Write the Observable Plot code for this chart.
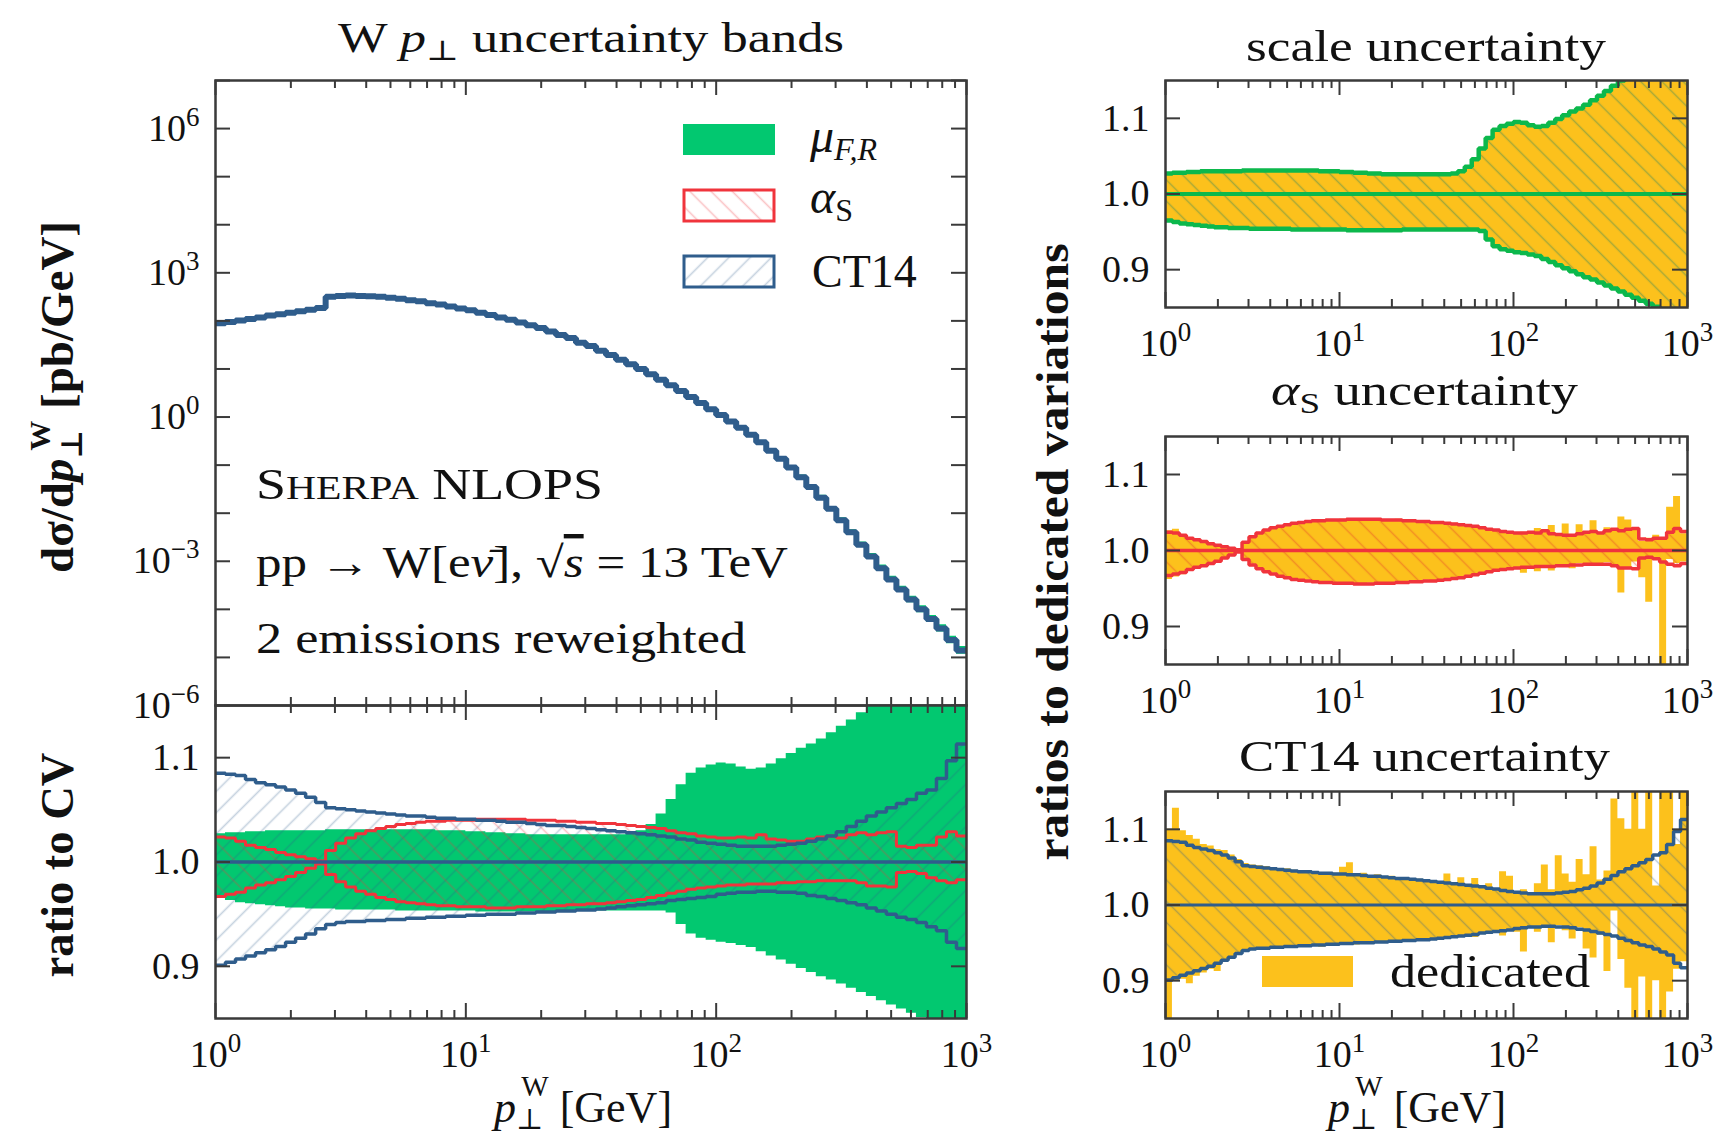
<!DOCTYPE html>
<html>
<head>
<meta charset="utf-8">
<script src="https://cdn.jsdelivr.net/npm/d3@7"></script>
<script src="https://cdn.jsdelivr.net/npm/@observablehq/plot@0.6"></script>
<style>
  html, body { margin: 0; padding: 0; background: #fff; }
  #chart { position: relative; width: 1720px; height: 1143px; overflow: hidden; background: #fff; }
  #chart > svg { position: absolute; left: 0; top: 0; }
</style>
</head>
<body>
<div id="chart"></div>
<script>
// ---- binning: 25 logarithmic bins per decade, 1 GeV to 1 TeV ----
const binEdges = [
  1, 1.096, 1.202, 1.318, 1.445, 1.585, 1.738, 1.905, 2.089, 2.291, 2.512, 2.754, 3.020, 3.311, 3.631, 3.981, 4.365, 4.786, 5.248, 5.754, 6.310, 6.918, 7.586, 8.318, 9.120,
  10, 10.96, 12.02, 13.18, 14.45, 15.85, 17.38, 19.05, 20.89, 22.91, 25.12, 27.54, 30.20, 33.11, 36.31, 39.81, 43.65, 47.86, 52.48, 57.54, 63.10, 69.18, 75.86, 83.18, 91.20,
  100, 109.6, 120.2, 131.8, 144.5, 158.5, 173.8, 190.5, 208.9, 229.1, 251.2, 275.4, 302.0, 331.1, 363.1, 398.1, 436.5, 478.6, 524.8, 575.4, 631.0, 691.8, 758.6, 831.8, 912.0,
  1000
];

// central value dsigma/dpT [pb/GeV]
const centralValue = [
  89, 95, 102, 110, 117, 129, 138, 148, 158, 170, 186,
  316, 331, 339, 331, 324, 316, 302, 288, 269, 257,
  234, 219, 200, 182, 166, 148, 132, 117, 105, 93,
  81, 71, 60, 51, 44, 35, 30, 24, 19.5, 15.5,
  12.6, 10, 7.8, 6.0, 4.6, 3.5, 2.6, 1.95, 1.45, 1.10,
  0.81, 0.60, 0.43, 0.30, 0.20, 0.135, 0.089, 0.056, 0.035, 0.021,
  0.0123, 0.0071, 0.0040, 0.0022, 0.00126, 0.00072, 0.00042, 0.00026, 0.00016, 0.0001,
  6.3e-5, 4.0e-5, 2.3e-5, 1.4e-5
];

// reweighted variations, ratio to central value
const scaleUp = [
  1.027,1.028,1.028,1.029,1.029,1.030,1.030,1.030,1.030,1.030,
  1.030,1.031,1.031,1.031,1.031,1.031,1.031,1.031,1.031,1.031,
  1.031,1.031,1.030,1.030,1.030,1.029,1.029,1.028,1.028,1.027,
  1.027,1.026,1.026,1.026,1.026,1.026,1.026,1.026,1.026,1.026,
  1.026,1.027,1.030,1.036,1.046,1.060,1.074,1.085,1.090,1.093,
  1.095,1.094,1.091,1.089,1.090,1.094,1.099,1.104,1.109,1.113,
  1.118,1.124,1.130,1.136,1.143,1.150,1.156,1.162,1.168,1.175,
  1.181,1.188,1.195,1.202,1.210
];
const scaleDown = [
  0.965,0.963,0.961,0.960,0.959,0.958,0.957,0.956,0.956,0.955,
  0.955,0.955,0.954,0.954,0.954,0.954,0.954,0.954,0.953,0.953,
  0.953,0.953,0.953,0.953,0.953,0.953,0.952,0.952,0.952,0.952,
  0.952,0.952,0.952,0.952,0.953,0.953,0.953,0.953,0.953,0.953,
  0.953,0.953,0.953,0.953,0.953,0.951,0.940,0.931,0.927,0.925,
  0.923,0.922,0.920,0.918,0.914,0.910,0.906,0.902,0.898,0.894,
  0.890,0.887,0.883,0.879,0.875,0.871,0.867,0.863,0.859,0.855,
  0.851,0.847,0.843,0.839,0.835
];
const alphaSUp = [
  1.024,1.023,1.020,1.016,1.014,1.012,1.009,1.007,1.005,1.003,
  1.001,1.011,1.018,1.023,1.027,1.030,1.032,1.034,1.036,1.037,
  1.038,1.039,1.039,1.040,1.040,1.040,1.041,1.041,1.041,1.041,
  1.041,1.040,1.040,1.040,1.039,1.039,1.038,1.038,1.037,1.037,
  1.036,1.035,1.034,1.033,1.032,1.030,1.028,1.027,1.025,1.024,
  1.023,1.023,1.024,1.023,1.026,1.022,1.021,1.020,1.020,1.022,
  1.024,1.025,1.023,1.026,1.028,1.026,1.028,1.029,1.015,1.014,
  1.016,1.016,1.024,1.029,1.025
];
const alphaSDown = [
  0.967,0.969,0.971,0.975,0.978,0.980,0.983,0.986,0.990,0.994,
  0.998,0.988,0.981,0.976,0.972,0.969,0.966,0.964,0.962,0.961,
  0.960,0.959,0.958,0.958,0.957,0.957,0.957,0.956,0.956,0.956,
  0.957,0.957,0.957,0.958,0.958,0.959,0.959,0.960,0.960,0.961,
  0.962,0.963,0.964,0.966,0.968,0.970,0.972,0.974,0.975,0.976,
  0.977,0.978,0.978,0.979,0.979,0.979,0.980,0.980,0.981,0.981,
  0.982,0.982,0.982,0.982,0.980,0.977,0.977,0.976,0.990,0.991,
  0.989,0.985,0.982,0.980,0.983
];
const ct14Up = [
  1.085,1.084,1.083,1.079,1.076,1.074,1.072,1.069,1.066,1.062,
  1.057,1.052,1.051,1.050,1.049,1.048,1.047,1.046,1.045,1.044,
  1.044,1.043,1.042,1.042,1.041,1.041,1.040,1.040,1.039,1.038,
  1.038,1.037,1.036,1.035,1.035,1.034,1.033,1.032,1.031,1.030,
  1.029,1.028,1.027,1.026,1.025,1.024,1.022,1.021,1.019,1.018,
  1.017,1.016,1.015,1.015,1.015,1.015,1.016,1.017,1.018,1.020,
  1.022,1.025,1.029,1.034,1.039,1.044,1.048,1.052,1.056,1.060,
  1.066,1.069,1.080,1.097,1.113
];
const ct14Down = [
  0.901,0.904,0.907,0.910,0.913,0.916,0.919,0.923,0.927,0.931,
  0.936,0.940,0.942,0.943,0.943,0.944,0.944,0.945,0.945,0.946,
  0.946,0.947,0.947,0.948,0.948,0.949,0.949,0.950,0.950,0.950,
  0.951,0.951,0.952,0.952,0.953,0.953,0.954,0.954,0.955,0.956,
  0.957,0.958,0.959,0.960,0.961,0.963,0.964,0.965,0.966,0.967,
  0.969,0.970,0.971,0.971,0.972,0.972,0.971,0.971,0.970,0.968,
  0.967,0.965,0.963,0.961,0.959,0.956,0.953,0.950,0.947,0.945,
  0.942,0.938,0.934,0.923,0.917
];

// dedicated (separately generated) variations
const alphaSDedicatedUp = [
  1.026,1.028,1.018,1.017,1.014,1.013,1.009,1.006,1.005,1.003,
  1.002,1.011,1.019,1.023,1.027,1.029,1.033,1.034,1.035,1.038,
  1.038,1.039,1.040,1.039,1.040,1.041,1.040,1.042,1.041,1.040,
  1.041,1.040,1.040,1.041,1.039,1.038,1.039,1.037,1.038,1.037,
  1.035,1.036,1.035,1.032,1.033,1.029,1.028,1.027,1.024,1.025,
  1.022,1.024,1.023,1.029,1.024,1.033,1.021,1.035,1.019,1.034,
  1.025,1.039,1.022,1.030,1.026,1.044,1.040,1.030,1.012,1.016,
  1.020,1.017,1.057,1.071,1.022
];
const alphaSDedicatedDown = [
  0.962,0.965,0.968,0.976,0.977,0.981,0.983,0.987,0.990,0.994,
  0.998,0.987,0.982,0.976,0.971,0.970,0.965,0.964,0.963,0.960,
  0.961,0.959,0.957,0.959,0.956,0.957,0.958,0.955,0.956,0.957,
  0.956,0.958,0.956,0.959,0.957,0.960,0.959,0.961,0.959,0.962,
  0.962,0.964,0.963,0.967,0.968,0.969,0.973,0.974,0.975,0.977,
  0.976,0.970,0.979,0.972,0.978,0.973,0.981,0.979,0.976,0.983,
  0.980,0.982,0.983,0.984,0.980,0.944,0.976,0.985,0.964,0.932,
  0.988,0.840,0.988,0.983,0.985
];
const ct14DedicatedUp = [
  1.100,1.128,1.098,1.092,1.087,1.080,1.078,1.073,1.072,1.066,
  1.060,1.055,1.053,1.052,1.051,1.049,1.047,1.048,1.046,1.045,
  1.045,1.044,1.043,1.043,1.042,1.050,1.056,1.041,1.042,1.039,
  1.040,1.037,1.038,1.036,1.035,1.035,1.034,1.032,1.032,1.030,
  1.041,1.029,1.036,1.026,1.035,1.024,1.028,1.021,1.044,1.038,
  1.017,1.020,1.015,1.028,1.053,1.020,1.065,1.041,1.030,1.060,
  1.040,1.077,1.033,1.045,1.140,1.114,1.100,1.200,1.100,1.200,
  1.025,1.200,1.200,1.080,1.200
];
const ct14DedicatedDown = [
  0.800,0.900,0.902,0.896,0.906,0.910,0.915,0.912,0.925,0.930,
  0.934,0.939,0.940,0.942,0.941,0.943,0.942,0.944,0.944,0.945,
  0.945,0.946,0.944,0.947,0.948,0.948,0.949,0.947,0.950,0.950,
  0.949,0.951,0.952,0.950,0.953,0.952,0.954,0.954,0.955,0.953,
  0.957,0.956,0.959,0.960,0.957,0.963,0.961,0.965,0.959,0.967,
  0.964,0.938,0.970,0.964,0.972,0.950,0.973,0.966,0.955,0.970,
  0.942,0.930,0.960,0.912,0.992,0.928,0.890,0.800,0.905,0.800,
  0.900,0.800,0.885,0.915,0.925
];

// ticks
const xMajorTicks = [1, 10, 100, 1000];
const xMinorTicks = [2,3,4,5,6,7,8,9, 20,30,40,50,60,70,80,90, 200,300,400,500,600,700,800,900];
const yMainTicks = [1e-6,1e-5,1e-4,1e-3,1e-2,1e-1,1,10,100,1e3,1e4,1e5,1e6,1e7];
const yMainLabels = [1e-6, 1e-3, 1, 1e3, 1e6];
const ratioTicks = [0.9, 1.0, 1.1];
const unity = [1];

// ---- styling ----
const W = 1720, H = 1143;
const FONT = '"Liberation Serif", "DejaVu Serif", serif';
const GREEN = "#02c870", GREEN_LINE = "#0cb84c", RED = "#f0343c", BLUE = "#2f5d8c", ORANGE = "#fcc11c", INK = "#3a3a3a";
const NS = "http://www.w3.org/2000/svg";
const chart = document.getElementById("chart");

// hatch patterns shared by all panels
chart.insertAdjacentHTML("beforeend", `
<svg width="0" height="0" style="position:absolute"><defs>
  <pattern id="hatch-ct14" patternUnits="userSpaceOnUse" width="15" height="15" patternTransform="rotate(45)">
    <line x1="7.5" y1="-1" x2="7.5" y2="16" stroke="${BLUE}" stroke-opacity="0.28" stroke-width="1.6"/></pattern>
  <pattern id="hatch-as" patternUnits="userSpaceOnUse" width="15" height="15" patternTransform="rotate(-45)">
    <line x1="7.5" y1="-1" x2="7.5" y2="16" stroke="${RED}" stroke-opacity="0.3" stroke-width="1.6"/></pattern>
  <pattern id="hatch-scale-r" patternUnits="userSpaceOnUse" width="15" height="15" patternTransform="rotate(-45)">
    <line x1="7.5" y1="-1" x2="7.5" y2="16" stroke="#3a8a5a" stroke-opacity="0.45" stroke-width="1.5"/></pattern>
  <pattern id="hatch-as-r" patternUnits="userSpaceOnUse" width="15" height="15" patternTransform="rotate(-45)">
    <line x1="7.5" y1="-1" x2="7.5" y2="16" stroke="#e8502a" stroke-opacity="0.45" stroke-width="1.5"/></pattern>
  <pattern id="hatch-ct14-r" patternUnits="userSpaceOnUse" width="15" height="15" patternTransform="rotate(-45)">
    <line x1="7.5" y1="-1" x2="7.5" y2="16" stroke="${BLUE}" stroke-opacity="0.35" stroke-width="1.5"/></pattern>
</defs></svg>`);

// histogram helpers: each bin becomes a flat segment between its edges
function stepBand(lo, hi) {
  const pts = [];
  lo.forEach((v, i) => {
    pts.push({x: binEdges[i], lo: v, hi: hi[i]});
    pts.push({x: binEdges[i + 1], lo: v, hi: hi[i]});
  });
  return pts;
}
function stepLine(vals) {
  const pts = [];
  vals.forEach((v, i) => {
    pts.push({x: binEdges[i], y: v});
    pts.push({x: binEdges[i + 1], y: v});
  });
  return pts;
}
const band = (lo, hi, fill) => Plot.areaY(stepBand(lo, hi), {x: "x", y1: "lo", y2: "hi", fill, clip: true, curve: "linear"});
const line = (vals, stroke, strokeWidth) => Plot.line(stepLine(vals), {x: "x", y: "y", stroke, strokeWidth, clip: true, strokeLinejoin: "miter"});

const powerLabel = d => {
  const e = Math.round(Math.log10(d));
  return "10^" + (e < 0 ? "\u2212" + (-e) : e);
};

// turn "10^n" tick labels into a base with a raised exponent
function superscripts(svg) {
  svg.querySelectorAll("text").forEach(t => {
    const m = /^10\^(.+)$/.exec(t.textContent);
    if (!m) return;
    t.textContent = "10";
    const s = document.createElementNS(NS, "tspan");
    s.setAttribute("dy", "-15");
    s.setAttribute("font-size", "27");
    s.textContent = m[1];
    t.appendChild(s);
  });
}

function panel({box, yType = "linear", yDomain, yTicks, yLabels, yFormat, xLabels, marks}) {
  const [x0, y0, x1, y1] = box;
  const fw = x1 - x0, fh = y1 - y0;
  const tick = {stroke: INK, strokeWidth: 2};
  const axes = [
    Plot.tickX(xMajorTicks, {x: d => d, insetTop: fh - 15, ...tick}),
    Plot.tickX(xMajorTicks, {x: d => d, insetBottom: fh - 15, ...tick}),
    Plot.tickX(xMinorTicks, {x: d => d, insetTop: fh - 8, ...tick}),
    Plot.tickX(xMinorTicks, {x: d => d, insetBottom: fh - 8, ...tick}),
    Plot.tickY(yTicks, {y: d => d, insetRight: fw - 15, ...tick}),
    Plot.tickY(yTicks, {y: d => d, insetLeft: fw - 15, ...tick}),
    Plot.frame({stroke: INK, strokeWidth: 2.5}),
    Plot.axisY({ticks: yLabels, tickSize: 0, tickPadding: 16, tickFormat: yFormat, label: null})
  ];
  if (xLabels) axes.push(Plot.axisX({ticks: xMajorTicks, tickSize: 0, tickPadding: 22, tickFormat: powerLabel, label: null}));
  const svg = Plot.plot({
    width: W, height: H,
    marginLeft: x0, marginRight: W - x1, marginTop: y0, marginBottom: H - y1,
    style: {background: "transparent", fontFamily: FONT, fontSize: "38px", color: "#111"},
    x: {type: "log", domain: [1, 1000], axis: xLabels ? undefined : null},
    y: {type: yType, domain: yDomain},
    marks: [...marks, ...axes]
  });
  superscripts(svg);
  chart.appendChild(svg);
}

const ratioFormat = d3.format(".1f");
const ratioDomain = [0.85, 1.15];

// main spectrum
panel({
  box: [215, 80, 966, 705], yType: "log", yDomain: [1e-6, 1e7],
  yTicks: yMainTicks, yLabels: yMainLabels, yFormat: powerLabel, xLabels: false,
  marks: [
    band(centralValue.map((v, i) => v * scaleDown[i]), centralValue.map((v, i) => v * scaleUp[i]), GREEN),
    line(centralValue, BLUE, 6)
  ]
});

// ratio to central value
panel({
  box: [215, 705, 966, 1018], yDomain: ratioDomain,
  yTicks: ratioTicks, yLabels: ratioTicks, yFormat: ratioFormat, xLabels: true,
  marks: [
    band(scaleDown, scaleUp, GREEN),
    band(ct14Down, ct14Up, "url(#hatch-ct14)"),
    band(alphaSDown, alphaSUp, "url(#hatch-as)"),
    line(alphaSUp, RED, 3), line(alphaSDown, RED, 3),
    line(ct14Up, BLUE, 3.5), line(ct14Down, BLUE, 3.5),
    Plot.ruleY(unity, {stroke: BLUE, strokeWidth: 3.5})
  ]
});

// scale uncertainty vs dedicated
panel({
  box: [1165, 80, 1687, 307], yDomain: ratioDomain,
  yTicks: ratioTicks, yLabels: ratioTicks, yFormat: ratioFormat, xLabels: true,
  marks: [
    band(scaleDown, scaleUp, ORANGE),
    band(scaleDown, scaleUp, "url(#hatch-scale-r)"),
    line(scaleUp, GREEN_LINE, 4.5), line(scaleDown, GREEN_LINE, 4.5),
    Plot.ruleY(unity, {stroke: GREEN_LINE, strokeWidth: 4})
  ]
});

// alpha_S uncertainty vs dedicated
panel({
  box: [1165, 436, 1687, 664], yDomain: ratioDomain,
  yTicks: ratioTicks, yLabels: ratioTicks, yFormat: ratioFormat, xLabels: true,
  marks: [
    band(alphaSDedicatedDown, alphaSDedicatedUp, ORANGE),
    band(alphaSDown, alphaSUp, "url(#hatch-as-r)"),
    line(alphaSUp, RED, 3.5), line(alphaSDown, RED, 3.5),
    Plot.ruleY(unity, {stroke: RED, strokeWidth: 3.5})
  ]
});

// CT14 uncertainty vs dedicated
panel({
  box: [1165, 791, 1687, 1018], yDomain: ratioDomain,
  yTicks: ratioTicks, yLabels: ratioTicks, yFormat: ratioFormat, xLabels: true,
  marks: [
    band(ct14DedicatedDown, ct14DedicatedUp, ORANGE),
    band(ct14Down, ct14Up, "url(#hatch-ct14-r)"),
    line(ct14Up, BLUE, 3.5), line(ct14Down, BLUE, 3.5),
    Plot.ruleY(unity, {stroke: BLUE, strokeWidth: 3})
  ]
});

// titles, axis labels, annotations and legends
chart.insertAdjacentHTML("beforeend", `
<svg width="${W}" height="${H}" font-family='${FONT}' fill="#111" style="position:absolute;left:0;top:0">
  <text x="338" y="52" font-size="42" textLength="506" lengthAdjust="spacingAndGlyphs">W <tspan font-style="italic">p</tspan><tspan font-size="28" dy="8">⊥</tspan><tspan dy="-8"> uncertainty bands</tspan></text>

  <rect x="683" y="124" width="92" height="31" fill="${GREEN}"/>
  <rect x="684" y="190" width="90" height="31" fill="url(#hatch-as)" stroke="${RED}" stroke-width="3"/>
  <rect x="684" y="256" width="90" height="31" fill="url(#hatch-ct14)" stroke="${BLUE}" stroke-width="3"/>
  <text x="810" y="152" font-size="48" font-style="italic">μ<tspan font-size="32" dy="8">F,R</tspan></text>
  <text x="810" y="213" font-size="48" font-style="italic">α<tspan font-size="32" font-style="normal" dy="8">S</tspan></text>
  <text x="812" y="287" font-size="46">CT14</text>

  <text x="256" y="499" font-size="44" textLength="347" lengthAdjust="spacingAndGlyphs">S<tspan font-size="34">HERPA</tspan> NLOPS</text>
  <text x="256" y="577" font-size="44" textLength="532" lengthAdjust="spacingAndGlyphs">pp → W[e<tspan font-style="italic">ν̄</tspan>], √<tspan font-style="italic" text-decoration="overline">s</tspan> = 13 TeV</text>
  <text x="256" y="653" font-size="44" textLength="490" lengthAdjust="spacingAndGlyphs">2 emissions reweighted</text>

  <text transform="translate(73,397) rotate(-90)" text-anchor="middle" font-size="47" font-weight="bold">dσ/d<tspan font-style="italic">p</tspan><tspan font-size="30" dy="9">⊥</tspan><tspan font-size="30" dx="-21" dy="-32">W</tspan><tspan dy="23"> [pb/GeV]</tspan></text>
  <text transform="translate(73,865) rotate(-90)" text-anchor="middle" font-size="46" font-weight="bold" textLength="225" lengthAdjust="spacingAndGlyphs">ratio to CV</text>
  <text transform="translate(1068,552) rotate(-90)" text-anchor="middle" font-size="46" font-weight="bold" textLength="617" lengthAdjust="spacingAndGlyphs">ratios to dedicated variations</text>

  <text x="494" y="1122" font-size="44"><tspan font-style="italic">p</tspan><tspan font-size="29" dy="7">⊥</tspan><tspan font-size="29" dx="-22" dy="-33">W</tspan><tspan dy="26"> [GeV]</tspan></text>
  <text x="1328" y="1122" font-size="44"><tspan font-style="italic">p</tspan><tspan font-size="29" dy="7">⊥</tspan><tspan font-size="29" dx="-22" dy="-33">W</tspan><tspan dy="26"> [GeV]</tspan></text>

  <text x="1246" y="61" font-size="44" textLength="360" lengthAdjust="spacingAndGlyphs">scale uncertainty</text>
  <text x="1271" y="405" font-size="44" textLength="307" lengthAdjust="spacingAndGlyphs"><tspan font-style="italic">α</tspan><tspan font-size="30" dy="8">S</tspan><tspan dy="-8"> uncertainty</tspan></text>
  <text x="1239" y="771" font-size="44" textLength="371" lengthAdjust="spacingAndGlyphs">CT14 uncertainty</text>

  <rect x="1262" y="956" width="91" height="31" fill="${ORANGE}"/>
  <text x="1390" y="987" font-size="46" textLength="200" lengthAdjust="spacingAndGlyphs">dedicated</text>
</svg>`);
</script>
</body>
</html>
